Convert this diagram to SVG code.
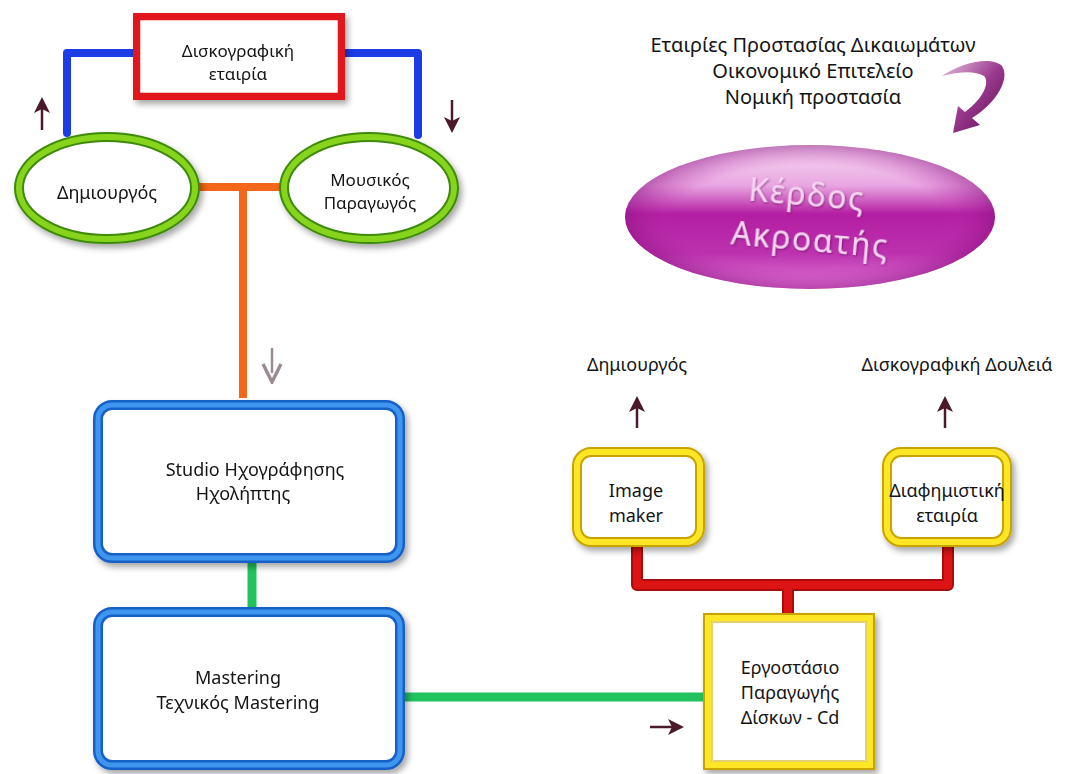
<svg xmlns="http://www.w3.org/2000/svg" width="1074" height="774" viewBox="0 0 1074 774">
<defs>
<filter id="sh" x="-10%" y="-10%" width="130%" height="130%">
<feDropShadow dx="3" dy="4" stdDeviation="3" flood-color="#000" flood-opacity="0.35"/>
</filter>
<filter id="glow" x="-10%" y="-20%" width="120%" height="140%">
<feDropShadow dx="1" dy="1" stdDeviation="1.2" flood-color="#5a0050" flood-opacity="0.6"/>
</filter>
<linearGradient id="pg" x1="0" y1="0" x2="0" y2="1">
<stop offset="0" stop-color="#f6dcf2"/>
<stop offset="0.28" stop-color="#e9a6e1"/>
<stop offset="0.48" stop-color="#b41ea2"/>
<stop offset="0.75" stop-color="#bb32ae"/>
<stop offset="1" stop-color="#e27ad8"/>
</linearGradient>
<radialGradient id="pg2" cx="0.5" cy="0.5" r="0.5">
<stop offset="0.72" stop-color="#c030b0" stop-opacity="0"/>
<stop offset="1" stop-color="#8a1080" stop-opacity="0.5"/>
</radialGradient>
<linearGradient id="ag" x1="0" y1="0" x2="1" y2="1">
<stop offset="0" stop-color="#e6c2e0"/>
<stop offset="0.5" stop-color="#9a3a8e"/>
<stop offset="1" stop-color="#5a0a52"/>
</linearGradient>
<marker id="ah" viewBox="0 0 10 10" refX="5" refY="5" markerWidth="8" markerHeight="8" orient="auto">
<path d="M1 1 L9 5 L1 9 L3 5 Z" fill="#4a1a2a"/>
</marker>
<marker id="ahl" viewBox="0 0 10 10" refX="5" refY="5" markerWidth="9" markerHeight="9" orient="auto">
<path d="M1 1 L9 5 L1 9" fill="none" stroke="#9a8a94" stroke-width="1.5"/>
</marker>
<style>
text{font-family:"Noto Sans","DejaVu Sans",sans-serif;font-size:18px;fill:#141414;text-anchor:middle}
.sm{font-size:17px}
.big{font-size:20px}
.kt{font-size:32px;fill:#f6d4f2;letter-spacing:1.5px}
.bl{fill:none;stroke:#1c3ce6;stroke-width:8;stroke-linecap:round;stroke-linejoin:round}
.or{fill:none;stroke:#f26818;stroke-width:8}
.gr{fill:none;stroke:#22c25e;stroke-width:9}
.rdo{fill:none;stroke:#a80c0c;stroke-width:12;stroke-linecap:round;stroke-linejoin:round}
.rd{fill:none;stroke:#dc1414;stroke-width:8;stroke-linecap:round;stroke-linejoin:round}
.sa{fill:none;stroke:#4a1a2a;stroke-width:2.5}
.sl{fill:none;stroke:#9a8a94;stroke-width:2.5}
.bbo{fill:#fff;stroke:#1560c8;stroke-width:10}
.bbi{fill:none;stroke:#3f96ee;stroke-width:5}
.ybo{fill:#fff;stroke:#c8a400;stroke-width:10}
.ybi{fill:none;stroke:#fde626;stroke-width:6}
.ybw{fill:none;stroke:#fffbe0;stroke-width:1}
.geo{fill:#fff;stroke:#3e8a08;stroke-width:10}
.gei{fill:none;stroke:#86d41e;stroke-width:6}
</style>
</defs>

<g id="connectors">
<path class="bl" d="M140 53 H67 V133"/>
<path class="bl" d="M340 53 H418 V135"/>
<path class="or" d="M198 187 H284 M243 187 V398"/>
<path class="gr" d="M252 560 V610"/>
<path class="gr" d="M403 697 H705"/>
<path class="rdo" d="M637 545 V585 H948 V545 M788 585 V614"/>
<path class="rd" d="M637 545 V585 H948 V545 M788 585 V614"/>
<path class="sa" d="M42 130 V105" marker-end="url(#ah)"/>
<path class="sa" d="M452 100 V125" marker-end="url(#ah)"/>
<path class="sl" d="M272 348 V373" marker-end="url(#ahl)"/>
<path class="sa" d="M637 428 V404" marker-end="url(#ah)"/>
<path class="sa" d="M945 428 V404" marker-end="url(#ah)"/>
<path class="sa" d="M650 727 H676" marker-end="url(#ah)"/>
<path d="M942 76 C962 62 992 56 1002 66 C1010 78 998 102 972 118 L980 125 L953 133 L958 106 L965 112 C984 98 990 82 984 76 C974 70 958 72 942 76 Z" fill="url(#ag)"/>
</g>

<g id="n-disko" filter="url(#sh)">
<rect x="137" y="17" width="204" height="79" fill="#fff" stroke="#e0141e" stroke-width="8"/>
<rect x="141" y="21" width="196" height="71" fill="none" stroke="#fff" stroke-width="1.5"/>
<text class="sm" x="238" y="57">Δισκογραφική</text>
<text class="sm" x="238" y="80">εταιρία</text>
</g>

<g id="n-dimiourgos" filter="url(#sh)">
<ellipse class="geo" cx="107" cy="188" rx="88" ry="51"/>
<ellipse class="gei" cx="107" cy="188" rx="88" ry="51"/>
<text x="107" y="199">Δημιουργός</text>
</g>

<g id="n-mousikos" filter="url(#sh)">
<ellipse class="geo" cx="369" cy="188" rx="85" ry="51"/>
<ellipse class="gei" cx="369" cy="188" rx="85" ry="51"/>
<text class="sm" x="370" y="186">Μουσικός</text>
<text class="sm" x="370" y="209">Παραγωγός</text>
</g>

<g id="n-studio" filter="url(#sh)">
<rect class="bbo" x="98" y="405" width="302" height="153" rx="14"/>
<rect class="bbi" x="98" y="405" width="302" height="153" rx="14"/>
<text x="255" y="476">Studio Ηχογράφησης</text>
<text x="243" y="500">Ηχολήπτης</text>
</g>

<g id="n-mastering" filter="url(#sh)">
<rect class="bbo" x="98" y="612" width="302" height="153" rx="14"/>
<rect class="bbi" x="98" y="612" width="302" height="153" rx="14"/>
<text x="238" y="684">Mastering</text>
<text x="238" y="709">Τεχνικός Mastering</text>
</g>

<g id="n-image">
<text x="637" y="371">Δημιουργός</text>
<g filter="url(#sh)">
<rect class="ybo" x="577" y="452" width="123" height="90" rx="14"/>
<rect class="ybi" x="577" y="452" width="123" height="90" rx="14"/>
</g>
<text x="636" y="497">Image</text>
<text x="636" y="522">maker</text>
</g>

<g id="n-diafim">
<text x="957" y="371">Δισκογραφική Δουλειά</text>
<g filter="url(#sh)">
<rect class="ybo" x="887" y="452" width="120" height="90" rx="14"/>
<rect class="ybi" x="887" y="452" width="120" height="90" rx="14"/>
</g>
<text x="947" y="497">Διαφημιστική</text>
<text x="947" y="522">εταιρία</text>
</g>

<g id="n-ergostasio">
<g filter="url(#sh)">
<rect class="ybo" x="708" y="618" width="162" height="147"/>
<rect class="ybi" x="708" y="618" width="162" height="147"/>
<rect class="ybw" x="712" y="622" width="154" height="139"/>
</g>
<text x="790" y="674">Εργοστάσιο</text>
<text x="790" y="699">Παραγωγής</text>
<text x="790" y="724">Δίσκων - Cd</text>
</g>

<g id="n-etairies">
<text class="big" x="813" y="52">Εταιρίες Προστασίας Δικαιωμάτων</text>
<text class="big" x="813" y="78">Οικονομικό Επιτελείο</text>
<text class="big" x="813" y="104">Νομική προστασία</text>
</g>

<g id="n-kerdos">
<ellipse cx="810" cy="217" rx="185" ry="72" fill="url(#pg)"/>
<ellipse cx="810" cy="217" rx="185" ry="72" fill="url(#pg2)"/>
<g transform="rotate(5 810 217)" filter="url(#glow)">
<text class="kt" x="805" y="206">Κέρδος</text>
<text class="kt" x="812" y="251">Ακροατής</text>
</g>
</g>
</svg>
